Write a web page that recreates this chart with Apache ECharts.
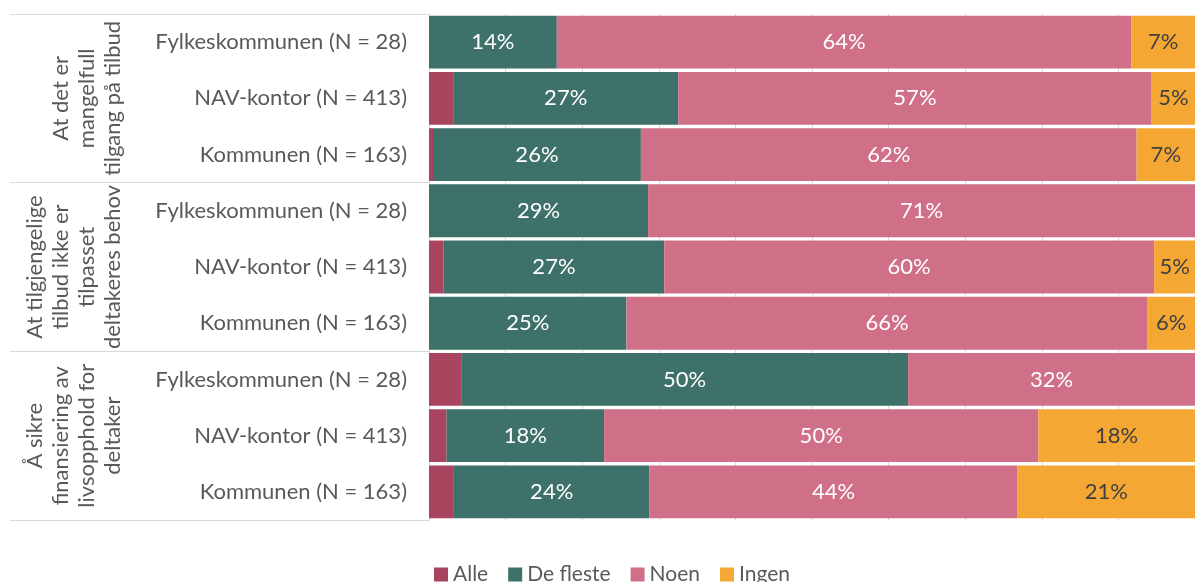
<!DOCTYPE html>
<html>
<head>
<meta charset="utf-8">
<script src="https://cdn.jsdelivr.net/npm/echarts@6/dist/echarts.min.js"></script>
<style>
    html, body { margin: 0; padding: 0; background: #fff; }
    #chart { width: 1195px; height: 582px; }
</style>
</head>
<body>
<div id="chart"></div>
<script>
// question groups (outer level of the category axis)
const groups = [
    'At det er\nmangelfull\ntilgang på tilbud',
    'At tilgjengelige\ntilbud ikke er\ntilpasset\ndeltakeres behov',
    'Å sikre\nfinansiering av\nlivsopphold for\ndeltaker'
]
const categories = [
    'Fylkeskommunen (N = 28)', 'NAV-kontor (N = 413)', 'Kommunen (N = 163)',
    'Fylkeskommunen (N = 28)', 'NAV-kontor (N = 413)', 'Kommunen (N = 163)',
    'Fylkeskommunen (N = 28)', 'NAV-kontor (N = 413)', 'Kommunen (N = 163)'
]
const seriesNames = ['Alle', 'De fleste', 'Noen', 'Ingen']
// percent per answer, rows follow categories
const alle = [0, 2.9, 0.5, 0, 1.8, 0, 3.6, 2.0, 3.0]
const deFleste = [14.3, 27.0, 26.0, 28.6, 27.0, 25.0, 50.0, 18.0, 23.6]
const noen = [64.3, 56.8, 62.0, 71.4, 60.0, 66.0, 32.1, 49.6, 44.4]
const ingen = [7.1, 5.2, 7.3, 0, 5.0, 6.0, 0, 17.9, 21.4]
const colors = ['#A9445F', '#3E7169', '#CF7088', '#F5A733']
const labelColors = ['#ffffff', '#ffffff', '#ffffff', '#404040']

const values = [alle, deFleste, noen, ingen]
// 100% stacked: each row is scaled to its own total
const totals = categories.map((c, i) => values.reduce((s, arr) => s + arr[i], 0))

const chart = echarts.init(document.getElementById('chart'))

const series = values.map((arr, k) => ({
    name: seriesNames[k],
    type: 'bar',
    stack: 'all',
    barCategoryGap: '6%',
    itemStyle: { color: colors[k] },
    label: {
        show: k > 0,
        position: 'inside',
        color: labelColors[k],
        fontSize: 22,
        formatter: p => p.data.raw > 0 ? Math.round(p.data.raw) + '%' : ''
    },
    data: arr.map((v, i) => ({ value: v / totals[i] * 100, raw: v }))
}))

const option = {
    animation: false,
    textStyle: { fontFamily: 'Lato' },
    color: colors,
    grid: { left: 429, right: -10, top: 14, bottom: 62 },
    legend: {
        data: seriesNames,
        left: 429,
        top: 559,
        itemWidth: 14,
        itemHeight: 14,
        itemGap: 20,
        icon: 'rect',
        textStyle: { color: '#595959', fontSize: 21 }
    },
    xAxis: {
        type: 'value',
        min: 0,
        max: 100,
        interval: 10,
        axisLabel: { show: false },
        axisLine: { show: false },
        axisTick: { show: false },
        splitLine: { lineStyle: { color: '#d9d9d9' } }
    },
    yAxis: [
        {
            type: 'category',
            data: categories,
            inverse: true,
            axisLine: { lineStyle: { color: '#d9d9d9' } },
            axisTick: { show: false },
            axisLabel: { color: '#595959', fontSize: 22, margin: 22, interval: 0 }
        },
        {
            type: 'category',
            data: groups,
            inverse: true,
            position: 'left',
            offset: 419,
            axisLine: { show: false },
            axisTick: { show: true, inside: true, length: 419, lineStyle: { color: '#d9d9d9' } },
            axisLabel: {
                inside: true,
                interval: 0,
                hideOverlap: false,
                rotate: 90,
                margin: 116,
                align: 'center',
                verticalAlign: 'bottom',
                lineHeight: 26,
                color: '#595959',
                fontSize: 22
            }
        }
    ],
    series: series
}

chart.setOption(option)
</script>
</body>
</html>
